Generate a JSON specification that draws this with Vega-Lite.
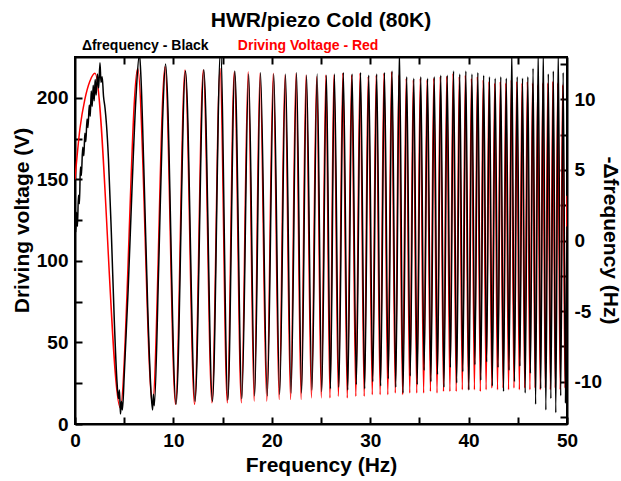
{
  "$schema": "https://vega.github.io/schema/vega-lite/v6.json",
  "width": 492,
  "height": 367,
  "autosize": {"type": "none"},
  "padding": {"left": 75, "top": 57, "right": 54, "bottom": 57},
  "background": "white",
  "config": {
    "font": "Liberation Sans",
    "view": {"stroke": "black", "strokeWidth": 2},
    "axis": {
      "grid": false,
      "domainColor": "black",
      "domainWidth": 2,
      "tickColor": "black",
      "tickWidth": 2,
      "tickSize": -7,
      "labelPadding": 14,
      "labelFont": "Liberation Sans",
      "labelFontWeight": "bold",
      "labelFontSize": 19,
      "labelColor": "black",
      "labelFlush": false,
      "labelOverlap": false,
      "titleFont": "Liberation Sans",
      "titleFontSize": 21,
      "titleFontWeight": "bold",
      "titleColor": "black"
    }
  },
  "title": {
    "text": "HWR/piezo Cold (80K)",
    "fontSize": 21,
    "fontWeight": "bold",
    "font": "Liberation Sans",
    "color": "black",
    "anchor": "middle",
    "frame": "group",
    "offset": 8
  },
  "datasets": {
    "volt": [
      {"f":0,"V":150},{"f":0.5,"V":181},{"f":1.0,"V":199},{"f":1.5,"V":210},{"f":2.03,"V":215},
      {"f":4.6,"V":10},{"f":6.37,"V":218},{"f":7.88,"V":12},{"f":9.15,"V":219},{"f":10.22,"V":12},{"f":11.18,"V":217},{"f":12.15,"V":12},{"f":13.04,"V":217},{"f":13.92,"V":13},{"f":14.74,"V":218},{"f":15.48,"V":13},{"f":16.19,"V":216},{"f":16.91,"V":13},{"f":17.6,"V":216},{"f":18.21,"V":14},{"f":18.8,"V":215},{"f":19.49,"V":14},{"f":20.15,"V":215},{"f":20.75,"V":15},{"f":21.34,"V":214},{"f":21.91,"V":15},{"f":22.46,"V":215},{"f":22.98,"V":15},{"f":23.48,"V":214},{"f":24.03,"V":16},{"f":24.56,"V":213},{"f":25.03,"V":16},{"f":25.5,"V":214},{"f":25.91,"V":16},{"f":26.31,"V":214},{"f":26.77,"V":17},{"f":27.22,"V":215},{"f":27.67,"V":16},{"f":28.11,"V":214},{"f":28.54,"V":17},{"f":28.97,"V":215},{"f":29.39,"V":17},{"f":29.8,"V":213},{"f":30.21,"V":18},{"f":30.61,"V":214},{"f":31.01,"V":18},{"f":31.4,"V":215},{"f":31.79,"V":18},{"f":32.17,"V":216},{"f":32.55,"V":19},{"f":32.92,"V":214},{"f":33.29,"V":18},{"f":33.66,"V":212},{"f":34.02,"V":19},{"f":34.38,"V":211},{"f":34.73,"V":19},{"f":35.09,"V":212},{"f":35.43,"V":19},{"f":35.78,"V":211},{"f":36.12,"V":20},{"f":36.46,"V":212},{"f":36.79,"V":19},{"f":37.12,"V":213},{"f":37.45,"V":20},{"f":37.78,"V":213},{"f":38.1,"V":20},{"f":38.42,"V":215},{"f":38.74,"V":20},{"f":39.05,"V":213},{"f":39.36,"V":21},{"f":39.67,"V":214},{"f":39.98,"V":21},{"f":40.29,"V":212},{"f":40.59,"V":21},{"f":40.89,"V":213},{"f":41.19,"V":20},{"f":41.48,"V":211},{"f":41.78,"V":21},{"f":42.07,"V":210},{"f":42.36,"V":22},{"f":42.65,"V":209},{"f":42.94,"V":21},{"f":43.22,"V":210},{"f":43.5,"V":22},{"f":43.78,"V":209},{"f":44.06,"V":21},{"f":44.34,"V":211},{"f":44.61,"V":22},{"f":44.89,"V":210},{"f":45.16,"V":21},{"f":45.43,"V":209},{"f":45.7,"V":22},{"f":45.97,"V":210},{"f":46.23,"V":21},{"f":46.5,"V":209},{"f":46.76,"V":22},{"f":47.02,"V":208},{"f":47.28,"V":21},{"f":47.54,"V":209},{"f":47.8,"V":22},{"f":48.05,"V":209},{"f":48.31,"V":21},{"f":48.56,"V":210},{"f":48.81,"V":22},{"f":49.06,"V":209},{"f":49.31,"V":21},{"f":49.56,"V":208},{"f":49.8,"V":22},{"f":50,"V":140}
    ],
    "dfreq": [
      {"f":0,"d":2.5},{"f":0.08,"d":0.6},{"f":0.16,"d":2.0},{"f":0.25,"d":1.0},{"f":0.35,"d":3.2},{"f":0.45,"d":2.6},{"f":0.55,"d":5.2},{"f":0.65,"d":4.6},{"f":0.78,"d":6.6},{"f":0.9,"d":6.0},{"f":1.0,"d":7.6},{"f":1.1,"d":7.0},{"f":1.22,"d":8.6},{"f":1.32,"d":8.0},{"f":1.45,"d":9.6},{"f":1.55,"d":8.8},{"f":1.65,"d":10.6},{"f":1.75,"d":9.5},{"f":1.85,"d":11.0},{"f":1.95,"d":9.9},{"f":2.05,"d":11.4},{"f":2.15,"d":10.3},{"f":2.28,"d":11.8},{"f":2.4,"d":10.8},{"f":2.54,"d":12.6},{"f":2.64,"d":11.2},{"f":2.76,"d":11.6},{"f":2.9,"d":10.2},{"f":3.05,"d":9.4},{"f":3.2,"d":8.2},{"f":3.4,"d":5.8},{"f":3.7,"d":0.4},{"f":4.0,"d":-5.8},{"f":4.25,"d":-9.8},{"f":4.42,"d":-11.2},{"f":4.52,"d":-10.6},{"f":4.62,"d":-12.3},{"f":4.72,"d":-11.4},{"f":4.82,"d":-12.0},{"f":5.0,"d":-9.6},{"f":5.4,"d":-3.5},{"f":5.8,"d":3.8},{"f":6.2,"d":10.2},{"f":6.55,"d":13.2},{"f":6.7,"d":11.6},{"f":7.0,"d":5.0},{"f":7.4,"d":-5.0},{"f":7.7,"d":-10.4},{"f":7.88,"d":-12.0},{"f":7.97,"d":-10.9},{"f":8.06,"d":-11.7},{"f":8.5,"d":-2.0},{"f":8.9,"d":8.5},
      {"f":9.2,"d":12.5},{"f":10.27,"d":-11.6},{"f":11.23,"d":12.0},{"f":12.2,"d":-11.4},{"f":13.09,"d":12.1},{"f":13.97,"d":-11.4},{"f":14.79,"d":13.5},{"f":15.53,"d":-11.3},{"f":16.24,"d":12.0},{"f":16.96,"d":-11.2},{"f":17.65,"d":11.8},{"f":18.26,"d":-11.0},{"f":18.85,"d":11.9},{"f":19.54,"d":-11.0},{"f":20.2,"d":11.8},{"f":20.8,"d":-10.9},{"f":21.39,"d":11.8},{"f":21.96,"d":-10.8},{"f":22.51,"d":11.9},{"f":23.03,"d":-10.8},{"f":23.53,"d":11.7},{"f":24.08,"d":-10.6},{"f":24.61,"d":11.8},{"f":25.08,"d":-10.7},{"f":25.55,"d":11.7},{"f":25.96,"d":-10.5},{"f":26.36,"d":11.8},{"f":26.82,"d":-10.4},{"f":27.27,"d":11.9},{"f":27.72,"d":-10.6},{"f":28.16,"d":11.8},{"f":28.59,"d":-10.2},{"f":29.02,"d":11.9},{"f":29.44,"d":-10.5},{"f":29.85,"d":11.7},{"f":30.26,"d":-10.0},{"f":30.66,"d":11.8},{"f":31.06,"d":-10.3},{"f":31.45,"d":11.9},{"f":31.84,"d":-9.8},{"f":32.22,"d":12.0},{"f":32.6,"d":-10.4},{"f":32.97,"d":13.5},{"f":33.34,"d":-10.8},{"f":33.71,"d":11.6},{"f":34.07,"d":-9.6},{"f":34.43,"d":11.5},{"f":34.78,"d":-10.2},{"f":35.14,"d":11.6},{"f":35.48,"d":-9.2},{"f":35.83,"d":11.5},{"f":36.17,"d":-10.0},{"f":36.51,"d":11.6},{"f":36.84,"d":-9.5},{"f":37.17,"d":11.7},{"f":37.5,"d":-10.4},{"f":37.83,"d":11.7},{"f":38.15,"d":-9.0},{"f":38.47,"d":12.0},{"f":38.79,"d":-10.1},{"f":39.1,"d":11.8},{"f":39.41,"d":-9.3},{"f":39.72,"d":12.0},{"f":40.03,"d":-10.6},{"f":40.34,"d":11.8},{"f":40.64,"d":-8.8},{"f":40.94,"d":11.9},{"f":41.24,"d":-9.9},{"f":41.53,"d":11.7},{"f":41.83,"d":-8.6},{"f":42.12,"d":11.6},{"f":42.41,"d":-10.3},{"f":42.7,"d":11.5},{"f":42.99,"d":-9.0},{"f":43.27,"d":11.6},{"f":43.55,"d":-10.7},{"f":43.83,"d":11.5},{"f":44.11,"d":-9.2},{"f":44.39,"d":13.5},{"f":44.66,"d":-10.0},{"f":44.94,"d":11.6},{"f":45.21,"d":-8.9},{"f":45.48,"d":11.5},{"f":45.75,"d":-10.8},{"f":46.02,"d":11.6},{"f":46.28,"d":-9.4},{"f":46.55,"d":12.2},{"f":46.81,"d":-11.6},{"f":47.07,"d":13.5},{"f":47.33,"d":-10.5},{"f":47.59,"d":13.5},{"f":47.85,"d":-12.0},{"f":48.1,"d":11.8},{"f":48.36,"d":-11.2},{"f":48.61,"d":12.0},{"f":48.86,"d":-12.2},{"f":49.11,"d":13.5},{"f":49.36,"d":-11.0},{"f":49.61,"d":11.9},{"f":49.85,"d":-11.5},{"f":50,"d":1.0}
    ]
  },
  "layer": [
    {
      "layer": [
        {
          "data": {"name": "volt"},
          "mark": {"type": "line", "color": "#ff0000", "strokeWidth": 1.5, "interpolate": "monotone", "clip": true},
          "encoding": {
            "x": {
              "field": "f", "type": "quantitative",
              "scale": {"domain": [0, 50], "nice": false, "zero": false},
              "axis": {"orient": "bottom", "title": "Frequency (Hz)", "values": [0,5,10,15,20,25,30,35,40,45,50], "labelExpr": "datum.value % 10 == 0 ? datum.label : ''", "titlePadding": 4}
            },
            "y": {
              "field": "V", "type": "quantitative",
              "scale": {"domain": [0, 225], "nice": false},
              "axis": {"orient": "left", "title": "Driving voltage (V)", "values": [0,25,50,75,100,125,150,175,200], "labelExpr": "datum.value % 50 == 0 ? datum.label : ''", "titleX": -53, "titleY": 163, "titleAngle": 270, "titleAlign": "center", "titleBaseline": "middle"}
            }
          }
        },
        {
          "data": {"values": [{}]},
          "mark": {"type": "text", "text": "Δfrequency - Black", "align": "left", "baseline": "middle", "fontSize": 14, "fontWeight": "bold", "color": "black", "font": "Liberation Sans", "clip": false},
          "encoding": {"x": {"datum": 0.7, "type": "quantitative"}, "y": {"datum": 231.6, "type": "quantitative"}}
        },
        {
          "data": {"values": [{}]},
          "mark": {"type": "text", "text": "Driving Voltage - Red", "align": "left", "baseline": "middle", "fontSize": 14, "fontWeight": "bold", "color": "#ff0000", "font": "Liberation Sans", "clip": false},
          "encoding": {"x": {"datum": 16.55, "type": "quantitative"}, "y": {"datum": 231.6, "type": "quantitative"}}
        }
      ]
    },
    {
      "data": {"name": "dfreq"},
      "mark": {"type": "line", "color": "black", "strokeWidth": 1.5, "interpolate": "monotone", "clip": true},
      "encoding": {
        "x": {
          "field": "f", "type": "quantitative",
          "axis": {"orient": "top", "title": null, "labels": false, "values": [5,10,15,20,25,30,35,40,45]}
        },
        "y": {
          "field": "d", "type": "quantitative",
          "scale": {"domain": [-13, 13], "nice": false, "zero": false},
          "axis": {"orient": "right", "title": "-Δfrequency (Hz)", "values": [-12.5,-10,-7.5,-5,-2.5,0,2.5,5,7.5,10,12.5], "labelExpr": "datum.value % 5 == 0 ? '' + datum.value : ''", "titleX": 42, "titleY": 183, "titleAngle": 90, "titleAlign": "center", "titleBaseline": "middle"}
        }
      }
    }
  ],
  "resolve": {"scale": {"y": "independent"}, "axis": {"x": "independent"}}
}
